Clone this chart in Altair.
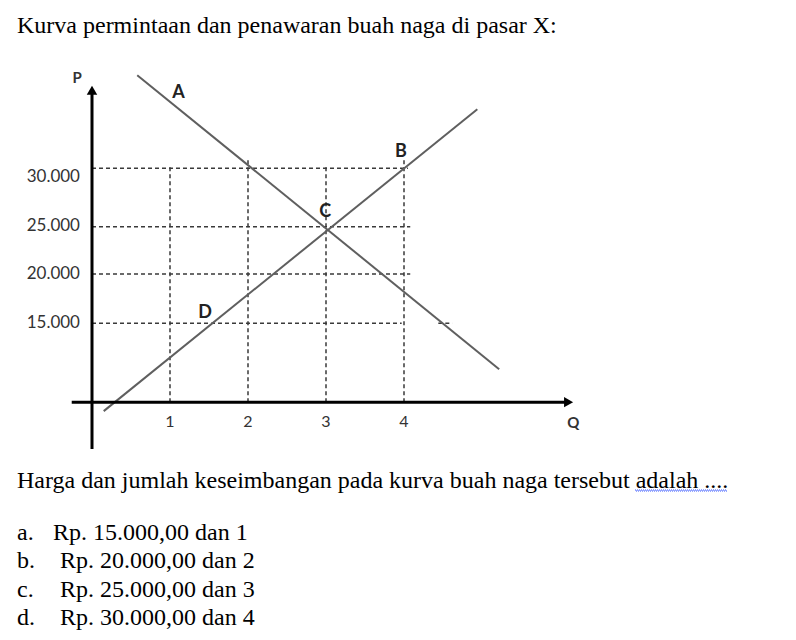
import altair as alt
import pandas as pd

# ---------------- data ----------------
q_ticks = [1, 2, 3, 4]
q_tick_labels = ["1", "2", "3", "4"]
p_ticks = [15000, 20000, 25000, 30000]
p_tick_labels = ["15.000", "20.000", "25.000", "30.000"]

# demand (A) and supply (B) straight lines: end points (Q, P)
demand_q = [0.58, 5.22]
demand_p = [37880, 10310]
supply_q = [0.15, 4.94]
supply_p = [6020, 35000]

# dashed guide segments
hguide_p = [30000, 25000, 20000, 15000, 15000]
hguide_q1 = [0, 0, 0, 0, 4.44]
hguide_q2 = [4.05, 4.08, 4.08, 3.97, 4.62]
vguide_q = [1, 2, 3, 4]
vguide_top = [30250, 30930, 30250, 30850]

# axis lines
axis_cross_p = 6940
q_axis_from, q_axis_to = -0.26, 6.11
p_axis_from, p_axis_to = 2150, 36610

# point labels
pt_names = ["A", "B", "C", "D"]
pt_q = [1.11, 3.96, 2.99, 1.45]
pt_p = [36360, 31380, 26270, 16020]
axis_names = ["P", "Q"]
axis_name_q = [-0.19, 6.17]
axis_name_p = [37630, 4800]

title_text = "Kurva permintaan dan penawaran buah naga di pasar X:"
question = "Harga dan jumlah keseimbangan pada kurva buah naga tersebut adalah ...."
option_letters = ["a.", "b.", "c.", "d."]
option_texts = [
    "Rp. 15.000,00 dan 1",
    "Rp. 20.000,00 dan 2",
    "Rp. 25.000,00 dan 3",
    "Rp. 30.000,00 dan 4",
]

# ---------------- scales ----------------
xs = alt.Scale(domain=[0, 7], range=[84, 630], zero=False, nice=False)
ys = alt.Scale(domain=[0, 15000, 20000, 25000, 30000, 45000],
               range=[462, 315.3, 266, 218.7, 160.3, -17], zero=False, nice=False)
ys_lab = alt.Scale(domain=[15000, 30000], range=[315, 169], zero=False, nice=False)
ys_txt = alt.Scale(domain=[0, 1, 4], range=[480, 532, 617], zero=False, nice=False)

SANS = "Lato"
SERIF = "Liberation Serif"

# ---------------- layers ----------------
curves = pd.DataFrame({
    "series": ["demand"] * len(demand_q) + ["supply"] * len(supply_q),
    "q": demand_q + supply_q,
    "p": demand_p + supply_p,
})
lines = alt.Chart(curves).mark_line(color="#5f5f5f", strokeWidth=2).encode(
    x=alt.X("q:Q", scale=xs, axis=None),
    y=alt.Y("p:Q", scale=ys, axis=None),
    detail="series:N",
)

hg = pd.DataFrame({"p": hguide_p, "q1": hguide_q1, "q2": hguide_q2})
hguides = alt.Chart(hg).mark_rule(color="#3a3a3a", strokeWidth=1.5, strokeDash=[4, 3]).encode(
    x=alt.X("q1:Q", scale=xs, axis=None), x2="q2:Q",
    y=alt.Y("p:Q", scale=ys, axis=None),
)
vg = pd.DataFrame({"q": vguide_q, "top": vguide_top, "bot": [axis_cross_p] * len(vguide_q)})
vguides = alt.Chart(vg).mark_rule(color="#3a3a3a", strokeWidth=1.5, strokeDash=[4, 3]).encode(
    x=alt.X("q:Q", scale=xs, axis=None),
    y=alt.Y("bot:Q", scale=ys, axis=None), y2="top:Q",
)

ax = pd.DataFrame({
    "x1": [0, q_axis_from], "x2": [0, q_axis_to],
    "y1": [p_axis_from, axis_cross_p], "y2": [p_axis_to, axis_cross_p],
})
axes = alt.Chart(ax).mark_rule(color="black", strokeWidth=3).encode(
    x=alt.X("x1:Q", scale=xs, axis=None), x2="x2:Q",
    y=alt.Y("y1:Q", scale=ys, axis=None), y2="y2:Q",
)
arrows_df = pd.DataFrame({
    "q": [0, q_axis_to], "p": [p_axis_to, axis_cross_p],
    "shape": ["triangle-up", "triangle-right"],
})
arrows = alt.Chart(arrows_df).mark_point(filled=True, color="black", opacity=1, size=110).encode(
    x=alt.X("q:Q", scale=xs, axis=None),
    y=alt.Y("p:Q", scale=ys, axis=None),
    shape=alt.Shape("shape:N", scale=None, legend=None),
)

ylab_df = pd.DataFrame({"p": p_ticks, "label": p_tick_labels, "q": [0] * len(p_ticks)})
ylabels = alt.Chart(ylab_df).mark_text(
    align="right", baseline="middle", dx=-12, font=SANS, fontSize=17, color="#333333"
).encode(
    x=alt.X("q:Q", scale=xs, axis=None),
    y=alt.Y("p:Q", scale=ys_lab, axis=None),
    text="label:N",
)
xlab_df = pd.DataFrame({"q": q_ticks, "label": q_tick_labels, "p": [axis_cross_p] * len(q_ticks)})
xlabels = alt.Chart(xlab_df).mark_text(
    align="center", baseline="middle", dy=20, font=SANS, fontSize=16, color="#333333"
).encode(
    x=alt.X("q:Q", scale=xs, axis=None),
    y=alt.Y("p:Q", scale=ys, axis=None),
    text="label:N",
)

pts_df = pd.DataFrame({"name": pt_names, "q": pt_q, "p": pt_p})
pt_labels = alt.Chart(pts_df).mark_text(
    align="center", baseline="middle", font=SANS, fontSize=18, fontWeight="bold", color="#222222"
).encode(
    x=alt.X("q:Q", scale=xs, axis=None),
    y=alt.Y("p:Q", scale=ys, axis=None),
    text="name:N",
)
an_df = pd.DataFrame({"name": axis_names, "q": axis_name_q, "p": axis_name_p})
ax_names = alt.Chart(an_df).mark_text(
    align="center", baseline="middle", font=SANS, fontSize=15, fontWeight="bold", color="#333333"
).encode(
    x=alt.X("q:Q", scale=xs, axis=None),
    y=alt.Y("p:Q", scale=ys, axis=None),
    text="name:N",
)

# page text
title = alt.Chart(pd.DataFrame({"t": [title_text]})).mark_text(
    align="left", baseline="alphabetic", font=SERIF, fontSize=24, color="black"
).encode(text="t:N", x=alt.value(9), y=alt.value(25))

txt_df = pd.DataFrame({
    "line": [0, 1, 2, 3, 4],
    "left": [question] + option_letters,
    "right": [""] + option_texts,
})
txt_left = alt.Chart(txt_df).mark_text(
    align="left", baseline="alphabetic", font=SERIF, fontSize=24, color="black"
).encode(
    text="left:N", x=alt.value(9),
    y=alt.Y("line:Q", scale=ys_txt, axis=None),
)
txt_first = alt.Chart(txt_df).transform_filter(alt.datum.line == 1).mark_text(
    align="left", baseline="alphabetic", font=SERIF, fontSize=24, color="black"
).encode(
    text="right:N", x=alt.value(45),
    y=alt.Y("line:Q", scale=ys_txt, axis=None),
)
txt_rest = alt.Chart(txt_df).transform_filter(alt.datum.line > 1).mark_text(
    align="left", baseline="alphabetic", font=SERIF, fontSize=24, color="black"
).encode(
    text="right:N", x=alt.value(52),
    y=alt.Y("line:Q", scale=ys_txt, axis=None),
)

squiggle_a = alt.Chart(pd.DataFrame({"k": [0]})).mark_rule(
    color="#3050ff", strokeWidth=1, strokeDash=[1, 1]
).encode(x=alt.value(627), x2=alt.value(719), y=alt.value(482))
squiggle_b = alt.Chart(pd.DataFrame({"k": [0]})).mark_rule(
    color="#3050ff", strokeWidth=1, strokeDash=[1, 1], strokeDashOffset=1
).encode(x=alt.value(627), x2=alt.value(719), y=alt.value(483))

chart = alt.layer(
    hguides, vguides, lines, axes, arrows, ylabels, xlabels, pt_labels, ax_names,
    title, txt_left, txt_first, txt_rest, squiggle_a, squiggle_b,
).resolve_scale(y="independent").properties(
    width=780, height=624, autosize="none", padding=0, background="white"
).configure_view(strokeWidth=0)

chart.save("out.html", embed_options={"renderer": "svg", "actions": False})
